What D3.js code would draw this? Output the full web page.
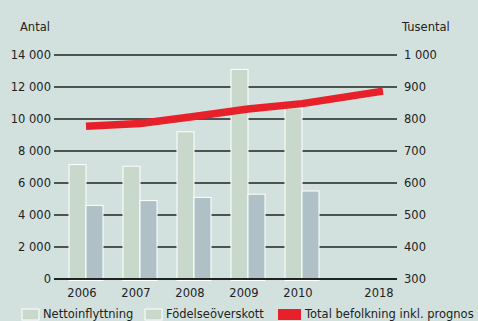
<!DOCTYPE html>
<html>
<head>
<meta charset="utf-8">
<script src="https://cdn.jsdelivr.net/npm/d3@7"></script>
<style>
  html, body { margin: 0; padding: 0; background: #d2e1de; overflow: hidden; }
  svg { display: block; font-family: "DejaVu Sans", sans-serif; }
</style>
</head>
<body>
<svg id="chart" width="478" height="321"></svg>
<script>
// Population change per year (antal) and total population in thousands
const years = ["2006", "2007", "2008", "2009", "2010", "2018"];
const barYears = ["2006", "2007", "2008", "2009", "2010"];
const nettoinflyttning = [7150, 7050, 9200, 13100, 10700];
const fodelseoverskott = [4600, 4900, 5100, 5300, 5500];
const befolkning = [777, 786, 808, 831, 848, 887];
const leftTicks = [0, 2000, 4000, 6000, 8000, 10000, 12000, 14000];
const rightTicks = [300, 400, 500, 600, 700, 800, 900, 1000];
const legendLabels = ["Nettoinflyttning", "Födelseöverskott", "Total befolkning inkl. prognos"];

const svg = d3.select("#chart");
const plot = { left: 54, right: 397, top: 55, bottom: 279 };

const fmt = v => d3.format(",")(v).replace(/,/g, " ");

// Category slots: consecutive years one step apart, the forecast year after a wider gap
const slot = years.map((y, i) => i < barYears.length ? i : barYears.length - 1 + 1.5);
const xs = d3.scaleLinear().domain([0, 5.5]).range([82, 379]);
const markShift = 4;
const xOf = i => xs(slot[i]);

const yL = d3.scaleLinear().domain([0, 14000]).range([plot.bottom, plot.top]);
const yR = d3.scaleLinear().domain([300, 1000]).range([plot.bottom, plot.top]);

// Gridlines
svg.append("g").selectAll("line").data(leftTicks).join("line")
  .attr("x1", plot.left).attr("x2", plot.right)
  .attr("y1", d => yL(d)).attr("y2", d => yL(d))
  .attr("stroke", "#1e2422").attr("stroke-width", d => d === 0 ? 1.8 : 1.3);

// Left axis labels
const axL = d3.axisLeft(yL).tickValues(leftTicks).tickFormat(fmt).tickSize(0).tickPadding(0);
const gL = svg.append("g").attr("transform", `translate(51,0)`).call(axL);
gL.select(".domain").remove();
gL.selectAll("text").attr("font-size", 11.5).attr("fill", "#222").attr("font-family", "DejaVu Sans");

// Right axis labels
const axR = d3.axisRight(yR).tickValues(rightTicks).tickFormat(fmt).tickSize(0).tickPadding(0);
const gR = svg.append("g").attr("transform", `translate(404,0)`).call(axR);
gR.select(".domain").remove();
gR.selectAll("text").attr("font-size", 11.5).attr("fill", "#222").attr("font-family", "DejaVu Sans");

// Axis titles
svg.append("text").attr("x", 20).attr("y", 31).text("Antal")
  .attr("font-size", 11.5).attr("fill", "#222");
svg.append("text").attr("x", 402).attr("y", 31).text("Tusental")
  .attr("font-size", 11.5).attr("fill", "#222");

// Bars
const bw = 17;
const bars = svg.append("g");
bars.selectAll("rect.n").data(nettoinflyttning).join("rect").attr("class", "n")
  .attr("x", (d, i) => xOf(i) + markShift - bw)
  .attr("y", d => yL(d))
  .attr("width", bw)
  .attr("height", d => yL(0) - yL(d) + 1.5)
  .attr("fill", "#c8d9cb").attr("stroke", "#ffffff").attr("stroke-width", 1);
bars.selectAll("rect.f").data(fodelseoverskott).join("rect").attr("class", "f")
  .attr("x", (d, i) => xOf(i) + markShift)
  .attr("y", d => yL(d))
  .attr("width", bw)
  .attr("height", d => yL(0) - yL(d) + 1.5)
  .attr("fill", "#afc1c6").attr("stroke", "#ffffff").attr("stroke-width", 1);

// Zero line over the bar bases
svg.append("line").attr("x1", plot.left).attr("x2", plot.right)
  .attr("y1", yL(0)).attr("y2", yL(0)).attr("stroke", "#1e2422").attr("stroke-width", 1.8);

// Population line
const line = d3.line().x((d, i) => xOf(i) + markShift).y(d => yR(d));
svg.append("path").datum(befolkning).attr("d", line)
  .attr("fill", "none").attr("stroke", "#e8202a").attr("stroke-width", 7.5)
  .attr("stroke-linejoin", "round").attr("stroke-linecap", "butt");

// X labels
svg.append("g").selectAll("text").data(years).join("text")
  .attr("x", (d, i) => xOf(i)).attr("y", 297)
  .attr("text-anchor", "middle").attr("font-size", 11.5).attr("fill", "#222")
  .text(d => d);

// Legend
const legend = [
  { label: legendLabels[0], fill: "#c8d9cb", stroke: "#ffffff", x: 22, w: 17 },
  { label: legendLabels[1], fill: "#c8d9cb", stroke: "#ffffff", x: 145, w: 17 },
  { label: legendLabels[2], fill: "#e8202a", stroke: "none", x: 278, w: 23 }
];
const lg = svg.append("g");
legend.forEach(l => {
  lg.append("rect").attr("x", l.x).attr("y", 309).attr("width", l.w).attr("height", 11)
    .attr("fill", l.fill).attr("stroke", l.stroke).attr("stroke-width", 1);
  lg.append("text").attr("x", l.x + l.w + 4).attr("y", 317.5)
    .attr("font-size", 11.5).attr("fill", "#222").text(l.label);
});
</script>
</body>
</html>
